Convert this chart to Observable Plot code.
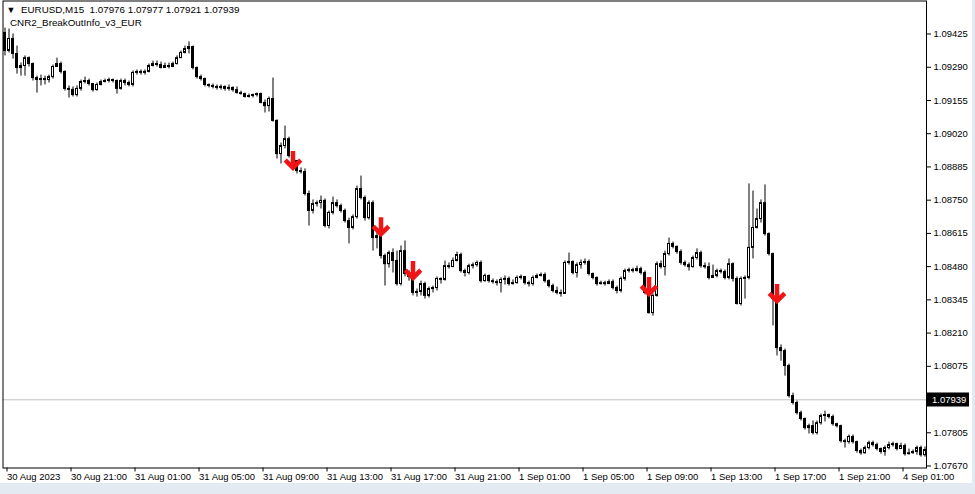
<!DOCTYPE html>
<html><head><meta charset="utf-8">
<script src="https://cdn.jsdelivr.net/npm/d3@7"></script>
<script src="https://cdn.jsdelivr.net/npm/@observablehq/plot@0.6"></script>
<style>
html,body{margin:0;padding:0;background:#e4eaf1;width:975px;height:494px;overflow:hidden;}
#chart{width:972px;height:483px;background:#fff;}
svg{display:block;}
</style></head><body><div id="chart"></div>
<script>
const symbolName = "EURUSD,M15";
const lastOHLC = ["1.07976", "1.07977", "1.07921", "1.07939"];
const indicatorName = "CNR2_BreakOutInfo_v3_EUR";
const currentPrice = 1.07939;
const firstOpen = 1.09429;

const close = [
1.09356,1.09405,1.09344,1.09287,1.09295,1.09327,1.09303,1.09246,1.09238,1.09242,
1.09238,1.09250,1.09291,1.09303,1.09271,1.09202,1.09198,1.09177,1.09202,1.09230,
1.09234,1.09222,1.09197,1.09218,1.09230,1.09234,1.09238,1.09234,1.09202,1.09234,
1.09226,1.09218,1.09267,1.09271,1.09267,1.09271,1.09295,1.09303,1.09299,1.09287,
1.09295,1.09291,1.09303,1.09327,1.09348,1.09364,1.09372,1.09287,1.09250,1.09242,
1.09218,1.09214,1.09210,1.09206,1.09210,1.09202,1.09206,1.09197,1.09185,1.09181,
1.09169,1.09173,1.09177,1.09181,1.09145,1.09132,1.09161,1.09072,1.08937,1.08970,
1.08998,1.08929,1.08909,1.08868,1.08864,1.08775,1.08706,1.08734,1.08738,1.08747,
1.08645,1.08698,1.08738,1.08726,1.08706,1.08665,1.08637,1.08681,1.08795,1.08759,
1.08677,1.08738,1.08596,1.08604,1.08523,1.08490,1.08535,1.08503,1.08409,1.08543,
1.08450,1.08438,1.08373,1.08377,1.08409,1.08361,1.08389,1.08393,1.08430,1.08426,
1.08482,1.08478,1.08503,1.08527,1.08462,1.08454,1.08482,1.08486,1.08495,1.08421,
1.08442,1.08421,1.08417,1.08413,1.08426,1.08430,1.08409,1.08413,1.08434,1.08438,
1.08413,1.08409,1.08434,1.08442,1.08446,1.08421,1.08401,1.08381,1.08373,1.08369,
1.08495,1.08499,1.08454,1.08486,1.08495,1.08499,1.08450,1.08434,1.08409,1.08413,
1.08409,1.08417,1.08393,1.08381,1.08430,1.08462,1.08466,1.08462,1.08470,1.08454,
1.08373,1.08291,1.08361,1.08490,1.08478,1.08531,1.08572,1.08560,1.08539,1.08495,
1.08486,1.08478,1.08515,1.08535,1.08482,1.08478,1.08434,1.08442,1.08462,1.08458,
1.08434,1.08490,1.08430,1.08328,1.08430,1.08434,1.08556,1.08637,1.08673,1.08738,
1.08612,1.08531,1.08348,1.08149,1.08137,1.08076,1.07954,1.07926,1.07885,1.07861,
1.07824,1.07832,1.07804,1.07844,1.07873,1.07877,1.07869,1.07840,1.07832,1.07771,
1.07767,1.07788,1.07767,1.07731,1.07722,1.07743,1.07763,1.07755,1.07739,1.07727,
1.07743,1.07755,1.07759,1.07739,1.07751,1.07718,1.07722,1.07727,1.07743,1.07714,1.07735
];
const high = [
1.09449,1.09445,1.09425,1.09376,1.09307,1.09336,1.09332,1.09307,1.09254,1.09258,
1.09254,1.09258,1.09299,1.09327,1.09311,1.09275,1.09214,1.09210,1.09214,1.09238,
1.09250,1.09242,1.09222,1.09226,1.09238,1.09242,1.09246,1.09242,1.09238,1.09242,
1.09242,1.09234,1.09275,1.09279,1.09279,1.09279,1.09303,1.09315,1.09315,1.09311,
1.09307,1.09307,1.09311,1.09336,1.09356,1.09376,1.09393,1.09376,1.09291,1.09258,
1.09246,1.09222,1.09222,1.09218,1.09218,1.09214,1.09218,1.09210,1.09210,1.09193,
1.09185,1.09181,1.09181,1.09185,1.09185,1.09157,1.09169,1.09246,1.09076,1.08982,
1.09051,1.09006,1.08933,1.08909,1.08881,1.08877,1.08787,1.08751,1.08747,1.08767,
1.08755,1.08706,1.08763,1.08751,1.08734,1.08714,1.08677,1.08690,1.08807,1.08848,
1.08767,1.08747,1.08747,1.08617,1.08612,1.08531,1.08543,1.08552,1.08543,1.08564,
1.08584,1.08462,1.08446,1.08389,1.08421,1.08417,1.08397,1.08401,1.08438,1.08434,
1.08503,1.08495,1.08515,1.08539,1.08535,1.08470,1.08490,1.08495,1.08503,1.08503,
1.08450,1.08446,1.08430,1.08426,1.08434,1.08442,1.08438,1.08426,1.08442,1.08446,
1.08438,1.08421,1.08442,1.08450,1.08454,1.08454,1.08426,1.08409,1.08397,1.08385,
1.08503,1.08535,1.08503,1.08495,1.08507,1.08511,1.08507,1.08454,1.08438,1.08421,
1.08421,1.08426,1.08426,1.08401,1.08438,1.08470,1.08474,1.08474,1.08482,1.08478,
1.08462,1.08381,1.08369,1.08499,1.08503,1.08543,1.08596,1.08580,1.08564,1.08548,
1.08503,1.08495,1.08523,1.08552,1.08543,1.08495,1.08495,1.08486,1.08470,1.08470,
1.08466,1.08511,1.08495,1.08438,1.08438,1.08442,1.08816,1.08787,1.08714,1.08751,
1.08812,1.08617,1.08535,1.08356,1.08162,1.08145,1.08084,1.07966,1.07934,1.07893,
1.07865,1.07840,1.07853,1.07853,1.07881,1.07893,1.07881,1.07877,1.07844,1.07836,
1.07779,1.07796,1.07796,1.07771,1.07739,1.07751,1.07771,1.07771,1.07763,1.07743,
1.07751,1.07767,1.07767,1.07763,1.07763,1.07759,1.07739,1.07735,1.07751,1.07751,1.07747
];
const low = [
1.09336,1.09348,1.09323,1.09262,1.09254,1.09254,1.09291,1.09234,1.09185,1.09214,
1.09218,1.09226,1.09242,1.09291,1.09262,1.09193,1.09165,1.09169,1.09169,1.09193,
1.09222,1.09214,1.09189,1.09193,1.09214,1.09226,1.09226,1.09226,1.09181,1.09197,
1.09214,1.09210,1.09210,1.09258,1.09258,1.09258,1.09267,1.09291,1.09291,1.09283,
1.09287,1.09283,1.09291,1.09299,1.09327,1.09344,1.09344,1.09279,1.09242,1.09234,
1.09210,1.09206,1.09202,1.09197,1.09197,1.09193,1.09193,1.09189,1.09181,1.09177,
1.09165,1.09165,1.09165,1.09169,1.09141,1.09104,1.09108,1.09067,1.08917,1.08897,
1.08958,1.08921,1.08889,1.08856,1.08856,1.08767,1.08645,1.08694,1.08722,1.08714,
1.08637,1.08633,1.08690,1.08718,1.08698,1.08657,1.08572,1.08629,1.08673,1.08751,
1.08665,1.08669,1.08543,1.08552,1.08511,1.08401,1.08474,1.08454,1.08401,1.08401,
1.08438,1.08421,1.08361,1.08356,1.08361,1.08348,1.08352,1.08373,1.08381,1.08409,
1.08421,1.08470,1.08478,1.08499,1.08454,1.08438,1.08446,1.08470,1.08478,1.08413,
1.08417,1.08413,1.08409,1.08401,1.08373,1.08405,1.08401,1.08405,1.08409,1.08426,
1.08405,1.08397,1.08401,1.08430,1.08438,1.08413,1.08393,1.08373,1.08365,1.08356,
1.08369,1.08486,1.08446,1.08434,1.08470,1.08486,1.08442,1.08426,1.08401,1.08405,
1.08401,1.08409,1.08385,1.08369,1.08373,1.08421,1.08454,1.08454,1.08458,1.08446,
1.08365,1.08287,1.08279,1.08356,1.08470,1.08442,1.08523,1.08552,1.08531,1.08486,
1.08478,1.08462,1.08474,1.08507,1.08474,1.08470,1.08426,1.08434,1.08434,1.08450,
1.08426,1.08426,1.08417,1.08324,1.08320,1.08348,1.08426,1.08511,1.08633,1.08657,
1.08604,1.08523,1.08239,1.08117,1.08096,1.08035,1.07946,1.07918,1.07877,1.07853,
1.07816,1.07800,1.07796,1.07796,1.07836,1.07849,1.07861,1.07832,1.07824,1.07763,
1.07743,1.07759,1.07759,1.07722,1.07714,1.07718,1.07735,1.07747,1.07731,1.07718,
1.07710,1.07735,1.07747,1.07731,1.07743,1.07710,1.07714,1.07718,1.07714,1.07706,1.07706
];

const timeTickBars = [0, 16, 32, 48, 64, 80, 96, 112, 128, 144, 160, 176, 192, 208, 224];
const timeTickLabels = ["30 Aug 2023", "30 Aug 21:00", "31 Aug 01:00", "31 Aug 05:00", "31 Aug 09:00",
  "31 Aug 13:00", "31 Aug 17:00", "31 Aug 21:00", "1 Sep 01:00", "1 Sep 05:00", "1 Sep 09:00",
  "1 Sep 13:00", "1 Sep 17:00", "1 Sep 21:00", "4 Sep 01:00"];
const priceTicks = [1.09425, 1.09290, 1.09155, 1.09020, 1.08885, 1.08750, 1.08615, 1.08480,
  1.08345, 1.08210, 1.08075, 1.07805, 1.07670];
const signalBars = [72, 94, 102, 161, 193];
const signalPrices = [1.08881, 1.08612, 1.08434, 1.08369, 1.08340];

const bars = close.map((c, i) => {
  const open = i === 0 ? firstOpen : close[i - 1];
  return {i, open, close: c, high: high[i], low: low[i], up: c >= open,
          top: Math.max(open, c), bot: Math.min(open, c)};
});
const signals = signalBars.map((b, k) => ({i: b, p: signalPrices[k]}));

const W = 972, H = 483;
const font = "'Liberation Sans', Arial, 'DejaVu Sans', sans-serif";

const plot = Plot.plot({
  width: W, height: H,
  marginLeft: 2.5, marginRight: 46, marginTop: 0.5, marginBottom: 15.5,
  style: {background: "#fff", fontFamily: font, fontSize: "9.5px", color: "#000", overflow: "visible"},
  x: {type: "linear", domain: [-0.5, 230.375], range: [2.5, 926]},
  y: {type: "linear", domain: [1.076619, 1.095591], range: [467.5, 0.5]},
  marks: [
    Plot.ruleY([currentPrice], {stroke: "#c0c0c0", strokeWidth: 1}),
    Plot.ruleX(bars, {x: "i", y1: "low", y2: "high", stroke: "#000", strokeWidth: 1}),
    Plot.rect(bars.filter(d => !d.up), {x1: d => d.i - 0.375, x2: d => d.i + 0.375, y1: "bot", y2: "top",
      fill: "#000", insetTop: -0.5, insetBottom: -0.5}),
    Plot.rect(bars.filter(d => d.up), {x1: d => d.i - 0.25, x2: d => d.i + 0.25, y1: "bot", y2: "top",
      fill: "#fff", stroke: "#000", strokeWidth: 1}),
    Plot.vector(signals, {x: "i", y: "p", length: 17, rotate: 180, anchor: "end", r: 8,
      stroke: "#f01414", strokeWidth: 4.5, strokeLinecap: "butt", strokeLinejoin: "miter"}),
    Plot.axisY(priceTicks, {anchor: "right", tickSize: 4, tickPadding: 3,
      tickFormat: d3.format(".5f"), label: null, fontSize: 9.5}),
    Plot.axisX(timeTickBars, {anchor: "bottom", tickSize: 4, tickPadding: 1.5,
      tickFormat: d => timeTickLabels[timeTickBars.indexOf(d)], textAnchor: "start", dx: 2,
      label: null, fontSize: 9.5}),
    Plot.frame({stroke: "#000"}),
    Plot.text(["\u25BC"], {text: d => d, frameAnchor: "top-left", dx: 3.5, dy: 6, textAnchor: "start",
      lineAnchor: "top", fontSize: 9, fill: "#000"}),
    Plot.text([`${symbolName}  ${lastOHLC.join(" ")}`], {text: d => d, frameAnchor: "top-left", dx: 18, dy: 5,
      textAnchor: "start", lineAnchor: "top", fontSize: 9.8, fill: "#000"}),
    Plot.text([indicatorName], {text: d => d, frameAnchor: "top-left", dx: 7, dy: 18,
      textAnchor: "start", lineAnchor: "top", fontSize: 9.8, fill: "#000"})
  ]
});

// current price label on the right axis
const yScale = plot.scale("y");
const py = Math.round(yScale.apply(currentPrice)) + 0.5;
const svg = d3.select(plot);
const g = svg.append("g");
g.append("rect").attr("x", 927).attr("y", py - 7).attr("width", 42).attr("height", 14).attr("fill", "#000");
g.append("text").attr("x", 932).attr("y", py + 3.5).attr("fill", "#fff").attr("text-anchor", "start")
  .attr("font-family", font).attr("font-size", 9.5).text(currentPrice.toFixed(5));

document.getElementById("chart").append(plot);
</script>
</body></html>
